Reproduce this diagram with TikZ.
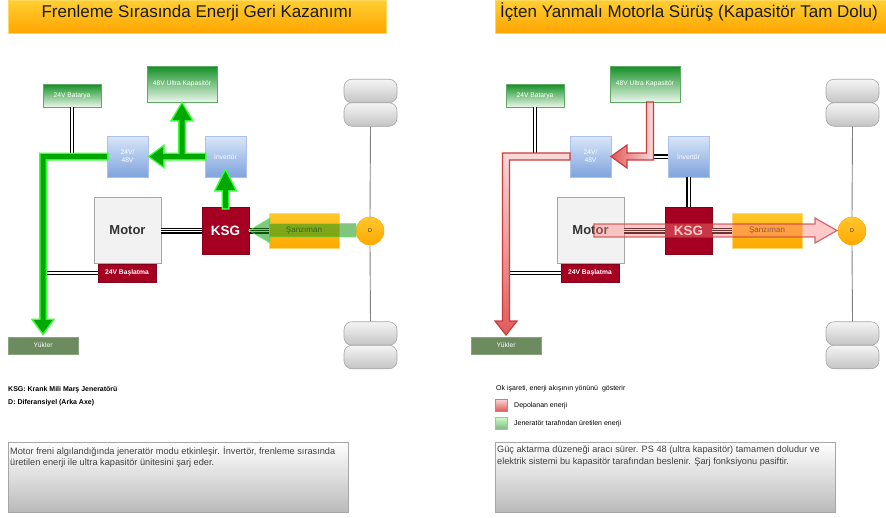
\documentclass[tikz,border=0pt]{standalone}
\usepackage{fontspec}
\setmainfont{Liberation Sans}
\definecolor{ttop}{HTML}{FFCF33}
\definecolor{tbot}{HTML}{FFA500}
\definecolor{gtop}{HTML}{138F25}
\definecolor{gbot}{HTML}{EAF6EA}
\definecolor{gboxb}{HTML}{5FA865}
\definecolor{btop}{HTML}{D9E6F8}
\definecolor{bbot}{HTML}{7FA3DD}
\definecolor{bboxb}{HTML}{A9C3EC}
\definecolor{ksgred}{HTML}{A50021}
\definecolor{otop}{HTML}{FFC72C}
\definecolor{obot}{HTML}{FFA800}
\definecolor{yuk}{HTML}{6C8C5F}
\definecolor{glime}{HTML}{3CFF3C}
\definecolor{gcore}{HTML}{00A800}
\definecolor{rfill}{HTML}{F4B4B4}
\definecolor{rdark}{HTML}{C83C3C}
\definecolor{rhead}{HTML}{E25A5A}
\definecolor{rlight}{HTML}{FAD9D9}
\begin{document}
\begin{tikzpicture}[x=1pt,y=-1pt,
  lbl/.style={font=\fontsize{6.7}{8}\selectfont, text=white, align=center},
  titlebar/.style={top color=ttop, bottom color=tbot, draw=ttop!80!white, line width=0.5pt, inner sep=0pt},
  titletext/.style={font=\fontsize{17}{20}\selectfont, text=black!90, inner sep=0pt},
  gbox/.style={draw=gboxb, line width=0.8pt, top color=gtop, bottom color=gbot, inner sep=0pt, lbl},
  bbox/.style={draw=bboxb, line width=0.8pt, top color=btop, bottom color=bbot, inner sep=0pt, lbl},
  rbox/.style={draw=ksgred!80!black, line width=0.5pt, fill=ksgred, inner sep=0pt, text=white},
  mbox/.style={draw=black!35, line width=0.8pt, fill=black!5, inner sep=0pt, font=\fontsize{13}{15}\selectfont\bfseries, text=black!80},
  obox/.style={draw=otop!70!white, line width=0.5pt, top color=otop, bottom color=obot, inner sep=0pt, font=\fontsize{8}{10}\selectfont, text=black!60!brown},
  ybox/.style={draw=yuk!80!white, line width=0.6pt, fill=yuk, inner sep=0pt, lbl},
  wheel/.style={draw=black!35, line width=0.6pt, top color=black!4, bottom color=black!23, rounded corners=8pt, inner sep=0pt, minimum width=53pt, minimum height=23.5pt},
  diff/.style={circle, draw=obot, line width=0.5pt, top color=otop, bottom color=obot, minimum size=28pt, inner sep=0pt, font=\fontsize{5.5}{6}\selectfont, text=black!80},
  axle/.style={draw=black!50, line width=0.9pt},
  wire/.style={draw=black, double=white, double distance=2pt, line width=1.2pt},
  shaftline/.style={draw=black, line width=1.1pt, preaction={draw=black, line width=6pt}, preaction={draw=white, line width=3.8pt}},
  tbox/.style={draw=black!35, line width=1pt, top color=white, bottom color=black!27, inner sep=0pt},
  body/.style={font=\fontsize{9.2}{11.5}\selectfont, text=black!75, align=left, inner sep=0pt},
  legtext/.style={font=\fontsize{7}{8}\selectfont, text=black, inner sep=0pt}
]
\useasboundingbox (0,0) rectangle (886,517);
\fill[white] (0,0) rectangle (886,517);

% ================= LEFT PANEL =================
\node[titlebar, minimum width=378pt, minimum height=33pt] (titleL) at (197,16.5) {};
\node[titletext, anchor=base] (titleLt) at (197,17.7) {Frenleme Sırasında Enerji Geri Kazanımı};

% wheels and axle
\node[wheel] (wLt1) at (370.5,91) {};
\node[wheel] (wLt2) at (370.5,114.5) {};
\node[wheel] (wLb1) at (370.5,333.5) {};
\node[wheel] (wLb2) at (370.5,357) {};
\node[diff] (DL) at (370,231) {D};
\draw[axle] (wLt2.south) -- (DL.north);
\draw[axle] (DL.south) -- (wLb1.north);

% boxes
\node[gbox, minimum width=58pt, minimum height=23pt] (batL) at (72,95.5) {24V Batarya};
\node[gbox, minimum width=70pt, minimum height=36pt] (capL) at (182,84) {48V Ultra Kapasitör};
\node[bbox, minimum width=41pt, minimum height=41pt] (convL) at (127.5,156.5) {24V/\\48V};
\node[bbox, minimum width=41pt, minimum height=41pt] (invL) at (225.5,156.5) {İnvertör};
\node[mbox, minimum width=67pt, minimum height=66pt] (motL) at (127.5,230.5) {Motor};
\node[rbox, minimum width=47pt, minimum height=47pt, font=\fontsize{13.5}{15}\selectfont\bfseries] (ksgL) at (225.5,230.5) {KSG};
\node[obox, minimum width=70pt, minimum height=35pt] (sanL) at (304,230.5) {Şanzıman};
\node[rbox, minimum width=58pt, minimum height=18pt, font=\fontsize{6.7}{8}\selectfont\bfseries] (staL) at (127,273) {24V Başlatma};
\node[ybox, minimum width=70pt, minimum height=17pt] (yukL) at (43,345.5) {Yükler};

% wires
\draw[wire] (batL.south) -- (batL.south |- convL.west);
\draw[wire] (staL.west) -- (staL.west -| yukL.north);
\draw[shaftline] (motL.east) -- (ksgL.west);
\draw[shaftline] (ksgL.east) -- (sanL.west);

% green energy arrows
\newcommand\GreenFlow[1]{%
  \path[#1] (107,154) -- (40.5,154) -- (40.5,320) -- (33.5,320) -- (43,333) -- (52.5,320) -- (45.5,320) -- (45.5,159) -- (107,159) -- cycle;
  \path[#1] (179.5,156.5) -- (179.5,120) -- (172.5,120) -- (182,104) -- (191.5,120) -- (184.5,120) -- (184.5,156.5) -- cycle;
  \path[#1] (205,154) -- (163,154) -- (163,147) -- (150,156.5) -- (163,166) -- (163,159) -- (205,159) -- cycle;
  \path[#1] (223,208) -- (223,190) -- (216,190) -- (225.5,171) -- (235,190) -- (228,190) -- (228,208) -- cycle;
}
\GreenFlow{draw=glime, line width=3pt, line join=miter}
\GreenFlow{fill=gcore}
% translucent green arrow D -> KSG
\path[fill=green!55!black!90, fill opacity=0.55, draw=green!70!white, draw opacity=0.7, line width=0.8pt]
  (356,223.5) -- (270,223.5) -- (270,218) -- (249,230.5) -- (270,243) -- (270,237) -- (356,237) -- cycle;

% legend
\node[legtext, anchor=west, font=\fontsize{7}{8}\selectfont\bfseries] (legK) at (8,390) {KSG: Krank Mili Marş Jeneratörü};
\node[legtext, anchor=west, font=\fontsize{7}{8}\selectfont\bfseries] (legD) at (8,403) {D: Diferansiyel (Arka Axe)};

% description
\node[tbox, minimum width=340pt, minimum height=70pt] (txtL) at (178,477) {};
\node[body, anchor=north west] (txtLt) at (10,446) {Motor freni algılandığında jeneratör modu etkinleşir. İnvertör, frenleme sırasında\\üretilen enerji ile ultra kapasitör ünitesini şarj eder.};

% ================= RIGHT PANEL =================
\node[titlebar, minimum width=391pt, minimum height=33pt] (titleR) at (690.5,16.5) {};
\node[titletext, anchor=base west] (titleRt) at (500,17.7) {İçten Yanmalı Motorla Sürüş (Kapasitör Tam Dolu)};

\node[wheel] (wRt1) at (852.5,91) {};
\node[wheel] (wRt2) at (852.5,114.5) {};
\node[wheel] (wRb1) at (852.5,333.5) {};
\node[wheel] (wRb2) at (852.5,357) {};
\node[diff] (DR) at (852,231) {D};
\draw[axle] (wRt2.south) -- (DR.north);
\draw[axle] (DR.south) -- (wRb1.north);

\node[gbox, minimum width=58pt, minimum height=23pt] (batR) at (535,95.5) {24V Batarya};
\node[gbox, minimum width=70pt, minimum height=36pt] (capR) at (645,84) {48V Ultra Kapasitör};
\node[bbox, minimum width=41pt, minimum height=41pt] (convR) at (590.5,156.5) {24V/\\48V};
\node[bbox, minimum width=41pt, minimum height=41pt] (invR) at (688.5,156.5) {İnvertör};
\node[mbox, minimum width=67pt, minimum height=66pt] (motR) at (590.5,230.5) {Motor};
\node[rbox, minimum width=47pt, minimum height=47pt, font=\fontsize{13.5}{15}\selectfont\bfseries] (ksgR) at (688.5,230.5) {KSG};
\node[obox, minimum width=70pt, minimum height=35pt] (sanR) at (767,230.5) {Şanzıman};
\node[rbox, minimum width=58pt, minimum height=18pt, font=\fontsize{6.7}{8}\selectfont\bfseries] (staR) at (590,273) {24V Başlatma};
\node[ybox, minimum width=70pt, minimum height=17pt] (yukR) at (506,345.5) {Yükler};
\coordinate (jR) at (650,156.5);

\draw[wire] (batR.south) -- (batR.south |- convR.west);
\draw[wire] (staR.west) -- (staR.west -| yukR.north);
\draw[wire] (invR.west) -- (jR);
\draw[wire] (invR.south) -- (ksgR.north);
\draw[shaftline] (motR.east) -- (ksgR.west);
\draw[shaftline] (ksgR.east) -- (sanR.west);

% red energy arrows
\path[left color=rhead, right color=rlight, draw=rdark, line width=1.2pt, line join=miter]
  (646.5,102) -- (646.5,153) -- (627,153) -- (627,145) -- (611,156.5) -- (627,168) -- (627,160) -- (653.5,160) -- (653.5,102) -- cycle;
\path[top color=rlight, bottom color=rhead, draw=rdark, line width=1.2pt, line join=miter]
  (570,153) -- (502.5,153) -- (502.5,321) -- (495,321) -- (506,335) -- (517,321) -- (509.5,321) -- (509.5,160) -- (570,160) -- cycle;
\path[fill=red!50, fill opacity=0.42, draw=rdark, draw opacity=0.75, line width=1.2pt]
  (594,224) -- (815,224) -- (815,218) -- (837,230.5) -- (815,243) -- (815,237) -- (594,237) -- cycle;

% legend
\node[legtext, anchor=west] (legO) at (496,389) {Ok işareti, enerji akışının yönünü\ \ gösterir};
\node[draw=rdark!70, line width=0.5pt, top color=rlight, bottom color=rhead, minimum size=12pt, inner sep=0pt] (legRsq) at (501,405) {};
\node[legtext, anchor=west] (legRt) at (514,406) {Depolanan enerji};
\node[draw=green!45!black!40, line width=0.5pt, top color=green!20!white, bottom color=green!45!black!50!white, minimum size=12pt, inner sep=0pt] (legGsq) at (501,423) {};
\node[legtext, anchor=west] (legGt) at (514,424) {Jeneratör tarafından üretilen enerji};

\node[tbox, minimum width=340pt, minimum height=70pt] (txtR) at (665,477) {};
\node[body, anchor=north west] (txtRt) at (497,446) {Güç aktarma düzeneği aracı sürer. PS 48 (ultra kapasitör) tamamen doludur ve\\elektrik sistemi bu kapasitör tarafından beslenir. Şarj fonksiyonu pasiftir.};
\end{tikzpicture}
\end{document}
